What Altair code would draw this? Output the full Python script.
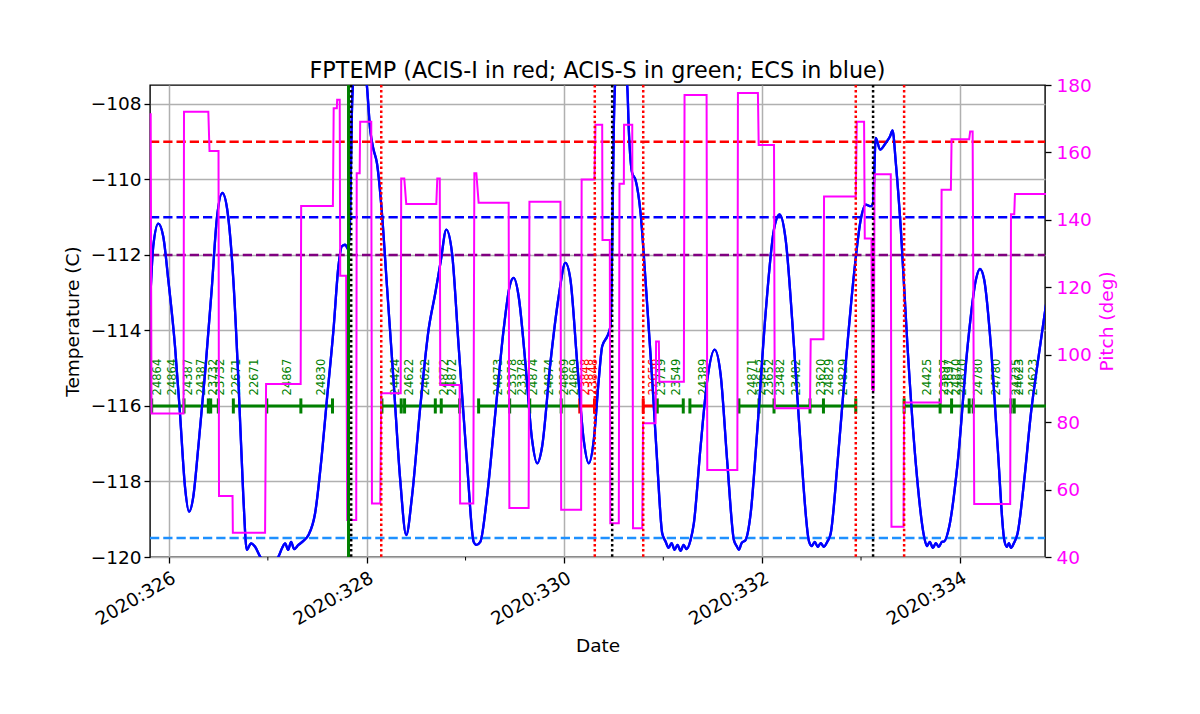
import altair as alt
import pandas as pd

FONT = "DejaVu Sans"

# ---------------- data ----------------
# FPTEMP (deg C) versus day-of-year 2020
temp_day = [
    325.808, 325.841, 325.892, 325.942, 325.993, 326.061, 326.111, 326.162, 326.203, 326.246,
    326.297, 326.365, 326.432, 326.483, 326.540, 326.594, 326.651, 326.702, 326.752, 326.787,
    326.830, 326.871, 326.922, 327.003, 327.107, 327.144, 327.175, 327.205, 327.235, 327.266,
    327.309, 327.357, 327.411, 327.478, 327.546, 327.597, 327.664, 327.714, 327.749, 327.782,
    327.816, 327.833, 327.850, 327.866, 327.914, 327.965, 328.002, 328.035, 328.069, 328.103,
    328.154, 328.205, 328.271, 328.339, 328.400, 328.458, 328.542, 328.626, 328.694, 328.751,
    328.805, 328.863, 328.930, 329.015, 329.082, 329.109, 329.149, 329.217, 329.301, 329.385,
    329.446, 329.487, 329.537, 329.605, 329.673, 329.724, 329.774, 329.858, 329.942, 330.010,
    330.061, 330.129, 330.195, 330.246, 330.297, 330.347, 330.382, 330.432, 330.466, 330.483,
    330.499, 330.516, 330.567, 330.635, 330.651, 330.685, 330.719, 330.770, 330.820, 330.888,
    330.939, 330.989, 331.023, 331.053, 331.084, 331.114, 331.144, 331.175, 331.205, 331.235,
    331.276, 331.309, 331.377, 331.445, 331.519, 331.580, 331.648, 331.714, 331.742, 331.765,
    331.792, 331.832, 331.884, 331.951, 332.035, 332.119, 332.177, 332.238, 332.322, 332.390,
    332.474, 332.501, 332.532, 332.562, 332.592, 332.623, 332.660, 332.694, 332.762, 332.846,
    332.930, 332.997, 333.048, 333.099, 333.122, 333.149, 333.193, 333.251, 333.294, 333.319,
    333.352, 333.403, 333.470, 333.554, 333.638, 333.666, 333.696, 333.727, 333.757, 333.787,
    333.818, 333.841, 333.892, 333.977, 334.078, 334.162, 334.203, 334.246, 334.314, 334.382,
    334.449, 334.476, 334.496, 334.516, 334.547, 334.584, 334.651, 334.719, 334.787, 334.854,
    334.901,
]
temp_val = [
    -113.32, -111.77, -111.17, -111.51, -112.66, -114.42, -116.19, -118.14, -118.80, -118.40,
    -117.08, -115.13, -112.92, -111.07, -110.36, -110.89, -112.66, -115.31, -118.40, -119.81,
    -119.64, -119.73, -119.99, -120.21, -119.99, -119.76, -119.64, -119.81, -119.60, -119.79,
    -119.68, -119.58, -119.42, -118.84, -117.30, -115.84, -113.98, -112.30, -111.77, -111.73,
    -111.86, -110.89, -108.24, -107.35, -106.82, -106.88, -107.53, -108.68, -109.21, -109.56,
    -110.89, -112.83, -115.31, -117.96, -119.42, -118.40, -116.02, -113.98, -113.01, -112.13,
    -111.33, -111.95, -114.42, -117.52, -119.60, -119.68, -119.60, -118.40, -116.19, -113.98,
    -112.83, -112.61, -113.10, -114.86, -116.90, -117.52, -117.08, -114.86, -113.10, -112.21,
    -112.66, -114.86, -116.90, -117.52, -116.90, -115.31, -114.42, -114.16, -113.89, -111.77,
    -108.68, -107.35, -106.82, -107.53, -108.68, -109.83, -110.01, -110.89, -112.66, -115.31,
    -117.52, -119.37, -119.59, -119.76, -119.63, -119.81, -119.68, -119.84, -119.68, -119.79,
    -119.55, -119.11, -117.08, -115.31, -114.51, -115.17, -117.52, -119.55, -119.71, -119.81,
    -119.63, -119.55, -118.84, -116.63, -113.54, -111.33, -110.93, -111.60, -114.42, -117.08,
    -119.59, -119.71, -119.60, -119.73, -119.63, -119.73, -119.59, -119.37, -117.52, -114.86,
    -112.48, -111.07, -110.67, -110.71, -110.62, -108.90, -109.21, -109.03, -108.86, -108.70,
    -109.56, -111.33, -114.42, -117.52, -119.46, -119.71, -119.60, -119.76, -119.63, -119.73,
    -119.60, -119.59, -119.20, -117.52, -114.42, -112.66, -112.37, -112.66, -114.42, -117.08,
    -119.55, -119.73, -119.63, -119.76, -119.63, -119.37, -117.96, -116.19, -114.86, -113.63,
    -112.79,
]

# Pitch (deg) versus day-of-year 2020
pitch_day = [
    325.815, 325.823, 326.147, 326.152, 326.398, 326.410, 326.501, 326.506, 326.643, 326.646,
    326.972, 326.982, 327.332, 327.337, 327.658, 327.666, 327.698, 327.701, 327.727, 327.732,
    327.792, 327.803, 327.894, 327.899, 327.929, 327.934, 328.046, 328.053, 328.137, 328.147,
    328.344, 328.349, 328.380, 328.400, 328.704, 328.714, 328.739, 328.744, 328.940, 328.945,
    329.078, 329.089, 329.109, 329.132, 329.436, 329.443, 329.638, 329.646, 329.960, 329.967,
    330.169, 330.174, 330.304, 330.314, 330.382, 330.385, 330.459, 330.464, 330.550, 330.557,
    330.601, 330.603, 330.686, 330.694, 330.787, 330.795, 330.922, 330.927, 330.955, 330.960,
    331.208, 331.215, 331.438, 331.445, 331.749, 331.755, 331.957, 331.965, 332.120, 332.127,
    332.484, 332.491, 332.620, 332.626, 332.947, 332.957, 333.031, 333.038, 333.106, 333.111,
    333.117, 333.122, 333.129, 333.137, 333.301, 333.308, 333.430, 333.436, 333.808, 333.815,
    333.909, 333.916, 334.094, 334.104, 334.129, 334.145, 334.509, 334.517, 334.550, 334.557,
    334.871,
]
pitch_val = [
    171.6, 82.6, 82.6, 172.1, 172.1, 160.4, 160.4, 58.1, 58.1, 47.2,
    47.2, 91.3, 91.3, 144.1, 144.1, 173.1, 173.1, 175.6, 175.6, 123.4,
    123.4, 51.0, 51.0, 153.8, 153.8, 169.1, 169.1, 55.9, 55.9, 88.6,
    88.6, 152.3, 152.3, 144.7, 144.7, 152.3, 152.3, 91.0, 91.0, 55.9,
    55.9, 153.8, 153.8, 145.1, 145.1, 54.5, 54.5, 145.4, 145.4, 54.0,
    54.0, 152.0, 152.0, 168.2, 168.2, 134.0, 134.0, 50.0, 50.0, 150.7,
    150.7, 168.2, 168.2, 48.5, 48.5, 79.7, 79.7, 103.9, 103.9, 92.0,
    92.0, 177.0, 177.0, 65.8, 65.8, 177.6, 177.6, 162.2, 162.2, 84.1,
    84.1, 104.6, 104.6, 146.9, 146.9, 169.1, 169.1, 134.5, 134.5, 89.5,
    134.5, 89.5, 89.5, 153.5, 153.5, 49.0, 49.0, 85.8, 85.8, 148.9,
    148.9, 163.9, 163.9, 166.2, 166.2, 55.7, 55.7, 141.7, 141.7, 147.7,
    147.7,
]

# observation segments drawn on the -116 C line
seg_start = [325.825, 326.651, 328.154, 329.132, 330.155, 330.797, 330.939, 331.269, 331.765, 333.436]
seg_end = [326.499, 327.654, 328.940, 330.155, 330.304, 330.939, 331.202, 331.400, 332.947, 334.871]
seg_color = ["green", "green", "green", "green", "red", "red", "green", "green", "green", "green"]

# segment boundary ticks
tick_day = [
    325.825, 326.152, 326.398, 326.422, 326.499, 326.651, 326.989, 327.334, 327.654, 328.154,
    328.349, 328.383, 328.694, 328.754, 328.940, 329.132, 329.446, 329.649, 329.967, 330.155,
    330.304, 330.797, 330.939, 331.202, 331.269, 331.765, 331.968, 332.120, 332.484, 332.620,
    332.947, 333.436, 333.800, 333.916, 334.094, 334.135, 334.517, 334.550,
]
tick_color = ["green"] * 19 + ["red", "red", "red"] + ["green"] * 16

# obsid labels
label_day = [
    325.825, 325.980, 326.145, 326.270, 326.398, 326.466, 326.631, 326.810, 327.147, 327.486,
    328.233, 328.373, 328.542, 328.734, 328.815, 329.276, 329.423, 329.524, 329.630, 329.792,
    329.949, 330.051, 330.155, 330.236, 330.841, 330.927, 331.073, 331.347, 331.851, 331.937,
    332.021, 332.127, 332.296, 332.544, 332.623, 332.770, 333.612, 333.790, 333.841, 333.909,
    333.967, 334.135, 334.317, 334.517, 334.550, 334.692,
]
label_text = [
    "24864", "24864", "24387", "24387", "23732", "23732", "22671", "22671", "24867", "24830",
    "24424", "24622", "24622", "24872", "24872", "24873", "23378", "23378", "24874", "24874",
    "24869", "24869", "23848", "23848", "22656", "23719", "23549", "24389", "24871", "23652",
    "23652", "23482", "23482", "23620", "24829", "24829", "24425", "23697", "23697", "24870",
    "24870", "24780", "24780", "24725", "24623", "24623",
]
label_color = ["green"] * 22 + ["red", "red", "red"] + ["green"] * 21

# horizontal limit lines
hline_val = [-109.0, -111.0, -112.0, -119.5]
hline_color = ["#ff0000", "#0000ff", "#800080", "#1e90ff"]

# vertical event lines
vsolid_day = [327.816]
vdot_day = [327.843, 330.483, 333.122, 328.147, 330.307, 330.797, 332.947, 333.436]
vdot_color = ["black", "black", "black", "red", "red", "red", "red", "red"]

minor_day = [327, 329, 331, 333]
major_day = [326, 328, 330, 332, 334]
temp_ticks = [-120, -118, -116, -114, -112, -110, -108]
pitch_ticks = [40, 60, 80, 100, 120, 140, 160, 180]

X_DOMAIN = [325.808, 334.861]
T_DOMAIN = [-120, -107.5]
P_DOMAIN = [40, 180]

# ---------------- frames ----------------
temp_df = pd.DataFrame({"day": temp_day, "temp": temp_val, "i": range(len(temp_day))})
pitch_df = pd.DataFrame({"day": pitch_day, "pitch": pitch_val, "i": range(len(pitch_day))})
seg_df = pd.DataFrame({"start": seg_start, "end": seg_end, "c": seg_color})
tick_df = pd.DataFrame({"day": tick_day, "c": tick_color})
label_df = pd.DataFrame({"day": label_day, "text": label_text, "c": label_color})
hline_df = pd.DataFrame({"v": hline_val, "c": hline_color})
vsolid_df = pd.DataFrame({"day": vsolid_day})
vdot_df = pd.DataFrame({"day": vdot_day, "c": vdot_color})
minor_df = pd.DataFrame({"day": minor_day})

xs = alt.Scale(domain=X_DOMAIN, nice=False, zero=False)
ts = alt.Scale(domain=T_DOMAIN, nice=False, zero=False)
ps = alt.Scale(domain=P_DOMAIN, nice=False, zero=False)

X_AXIS = alt.Axis(
    title="Date",
    values=major_day,
    labelExpr="'2020:' + datum.value",
    labelAngle=-30,
    labelAlign="right",
    labelBaseline="top",
    grid=True,
    titlePadding=8,
)
T_AXIS = alt.Axis(
    title="Temperature (C)",
    values=temp_ticks,
    format="d",
    grid=True,
    labelPadding=3,
    titlePadding=8,
)
P_AXIS = alt.Axis(
    orient="right",
    title="Pitch (deg)",
    values=pitch_ticks,
    format="d",
    grid=False,
    labelColor="#ff00ff",
    titleColor="#ff00ff",
    titleAngle=270,
    titleBaseline="top",
    titlePadding=6,
)


def xenc(field="day"):
    return alt.X(f"{field}:Q", scale=xs, axis=X_AXIS, title="Date")


def ydatum(v):
    return alt.YDatum(v, scale=ts, axis=T_AXIS, type="quantitative", title="Temperature (C)")


hlines = alt.Chart(hline_df).mark_rule(strokeWidth=2.5, strokeDash=[9.25, 4]).encode(
    x=alt.value(0),
    x2=alt.value(895),
    y=alt.Y("v:Q", scale=ts, axis=T_AXIS, title="Temperature (C)"),
    color=alt.Color("c:N", scale=None),
)

segs = alt.Chart(seg_df).mark_rule(strokeWidth=3).encode(
    x=alt.X("start:Q", scale=xs, axis=X_AXIS, title="Date"),
    x2="end:Q",
    y=ydatum(-116.0),
    color=alt.Color("c:N", scale=None),
)

ticks = alt.Chart(tick_df).mark_rule(strokeWidth=3).encode(
    x=xenc(),
    y=ydatum(-115.8),
    y2=alt.Y2Datum(-116.2),
    color=alt.Color("c:N", scale=None),
)

labels = alt.Chart(label_df).mark_text(
    angle=270, align="left", baseline="top", fontSize=11.5, font=FONT
).encode(
    x=xenc(),
    y=ydatum(-115.72),
    text="text:N",
    color=alt.Color("c:N", scale=None),
)

minor = alt.Chart(minor_df).mark_rule(color="black", strokeWidth=1).encode(
    x=xenc(),
    y=alt.value(472),
    y2=alt.value(475.5),
)

temp_line = alt.Chart(temp_df).mark_line(
    color="#0000ff", strokeWidth=2.3, clip=True, interpolate="monotone"
).encode(
    x=xenc(),
    y=alt.Y("temp:Q", scale=ts, axis=T_AXIS, title="Temperature (C)"),
    order="i:Q",
)

temp_group = alt.layer(temp_line, hlines, segs, ticks, labels, minor, temp_line)

pitch_line = alt.Chart(pitch_df).mark_line(color="#ff00ff", strokeWidth=2).encode(
    x=xenc(),
    y=alt.Y("pitch:Q", scale=ps, axis=P_AXIS, title="Pitch (deg)"),
    order="i:Q",
)

vsolid = alt.Chart(vsolid_df).mark_rule(color="green", strokeWidth=3).encode(
    x=xenc(), y=alt.value(0), y2=alt.value(472)
)
vdot = alt.Chart(vdot_df).mark_rule(strokeWidth=2.5, strokeDash=[2.5, 2.6]).encode(
    x=xenc(),
    y=alt.value(0),
    y2=alt.value(472),
    color=alt.Color("c:N", scale=None),
)

chart = (
    alt.layer(temp_group, pitch_line, vsolid, vdot)
    .resolve_scale(y="independent")
    .properties(
        width=895,
        height=472,
        autosize=alt.AutoSizeParams(type="none"),
        padding={"left": 142, "top": 77, "right": 147, "bottom": 149},
        title=alt.Title(
            "FPTEMP (ACIS-I in red; ACIS-S in green; ECS in blue)",
            font=FONT,
            fontSize=22.3,
            fontWeight="normal",
            color="black",
            anchor="middle",
            offset=-6,
        ),
    )
    .configure_view(stroke="black", strokeWidth=1.4)
    .configure_axis(
        labelFont=FONT,
        labelFontSize=18.5,
        labelColor="black",
        titleFont=FONT,
        titleFontSize=18.5,
        titleFontWeight="normal",
        titleColor="black",
        domain=False,
        tickColor="black",
        tickSize=6,
        tickWidth=1.3,
        labelPadding=5,
        gridColor="#b0b0b0",
        gridWidth=1.5,
    )
)

chart.save("out.html", embed_options={"renderer": "svg", "actions": False})
